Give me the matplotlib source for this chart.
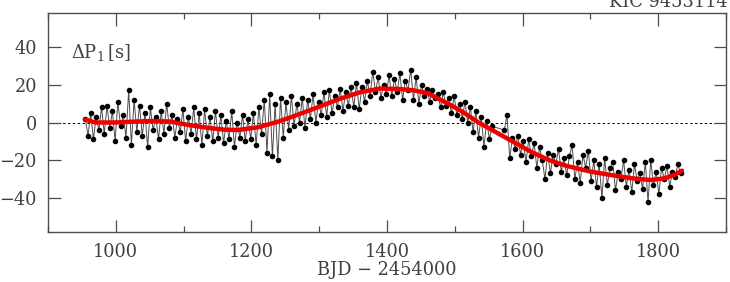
import matplotlib
matplotlib.use("Agg")
import matplotlib.pyplot as plt
from matplotlib.ticker import MultipleLocator

plt.rcParams['font.family'] = ['DejaVu Serif']
plt.rcParams['mathtext.fontset'] = 'dejavuserif'

# ---- data ----
time = [955, 959, 963, 967, 971, 975, 979, 983, 987, 991,
        995, 999, 1003, 1007, 1011, 1015, 1019, 1023, 1027, 1031,
        1035, 1039, 1043, 1047, 1051, 1055, 1059, 1063, 1067, 1071,
        1075, 1079, 1083, 1087, 1091, 1095, 1099, 1103, 1107, 1111,
        1115, 1119, 1123, 1127, 1131, 1135, 1139, 1143, 1147, 1151,
        1155, 1159, 1163, 1167, 1171, 1175, 1179, 1183, 1187, 1191,
        1195, 1199, 1203, 1207, 1211, 1215, 1219, 1223, 1227, 1231,
        1235, 1239, 1243, 1247, 1251, 1255, 1259, 1263, 1267, 1271,
        1275, 1279, 1283, 1287, 1291, 1295, 1299, 1303, 1307, 1311,
        1315, 1319, 1323, 1327, 1331, 1335, 1339, 1343, 1347, 1351,
        1355, 1359, 1363, 1367, 1371, 1375, 1379, 1383, 1387, 1391,
        1395, 1399, 1403, 1407, 1411, 1415, 1419, 1423, 1427, 1431,
        1435, 1439, 1443, 1447, 1451, 1455, 1459, 1463, 1467, 1471,
        1475, 1479, 1483, 1487, 1491, 1495, 1499, 1503, 1507, 1511,
        1515, 1519, 1523, 1527, 1531, 1535, 1539, 1543, 1547, 1551,
        1555,
        1573, 1577, 1581, 1585, 1589, 1593, 1597, 1601, 1605, 1609,
        1613, 1617, 1621, 1625, 1629, 1633, 1637, 1641, 1645, 1649,
        1653, 1657, 1661, 1665, 1669, 1673, 1677, 1681, 1685, 1689,
        1693, 1697, 1701, 1705, 1709, 1713, 1717, 1721, 1725, 1729,
        1733, 1737, 1741, 1745, 1749, 1753, 1757, 1761, 1765, 1769,
        1773, 1777, 1781, 1785, 1789, 1793, 1797, 1801, 1805, 1809,
        1813, 1817, 1821, 1825, 1829, 1833]

dP = [2, -7, 5, -9, 3, -4, 8, -6, 9, -3,
      6, -10, 11, -2, 4, -8, 17, -12, 12, -5,
      9, -7, 5, -13, 8, -4, 3, -9, 6, -6,
      10, -3, 4, -8, 2, -5, 7, -10, 3, -6,
      8, -9, 5, -12, 7, -7, 3, -10, 6, -8,
      4, -11, 1, -9, 6, -13, 0, -8, 4, -10,
      2, -9, 5, -12, 8, -6, 12, -16, 15, -18,
      10, -20, 13, -8, 11, -4, 14, -2, 10, 0,
      13, -3, 12, 2, 15, 0, 11, 4, 16, 3,
      17, 5, 14, 8, 18, 6, 16, 9, 19, 8,
      21, 7, 19, 11, 22, 14, 27, 16, 24, 13,
      20, 15, 25, 14, 23, 16, 26, 12, 22, 17,
      28, 12, 24, 10, 20, 14, 18, 11, 17, 13,
      15, 8, 16, 9, 13, 5, 14, 4, 10, 2,
      11, 0, 8, -5, 6, -8, 3, -13, 1, -9,
      -2,
      -4, 4, -19, -8, -14, -7, -17, -10, -21, -9,
      -18, -11, -24, -13, -20, -30, -16, -27, -17, -22,
      -14, -26, -19, -28, -18, -12, -30, -21, -32, -17,
      -24, -15, -31, -20, -34, -22, -40, -19, -33, -24,
      -21, -36, -26, -30, -20, -34, -25, -37, -22, -31,
      -27, -35, -21, -42, -20, -33, -26, -38, -24, -30,
      -23, -34, -26, -29, -22, -27]

fit_time = [955, 970, 1000, 1030, 1050, 1080, 1110, 1140, 1160, 1180, 1210,
            1240, 1260, 1290, 1330, 1360, 1390, 1420, 1440, 1460, 1490,
            1510, 1535, 1560, 1575, 1600, 1615, 1640, 1665, 1700, 1730,
            1760, 1790, 1810, 1825, 1835]
fit_val = [1.5, 0.0, 0.0, 0.5, 0.8, 0.5, -1.5, -3.0, -3.8, -4.0, -2.5,
           0.5, 3.0, 7.0, 12.5, 16.0, 18.0, 17.7, 17.0, 15.5, 10.0,
           6.0, 0.0, -5.0, -8.0, -13.0, -16.0, -20.0, -23.0, -26.0, -27.8,
           -29.5, -30.5, -29.5, -27.5, -25.5]

xticks = [1000, 1200, 1400, 1600, 1800]
yticks = [-40, -20, 0, 20, 40]

fig = plt.figure(figsize=(7.30, 2.82), dpi=100)
ax = fig.add_axes([48/730, 1-232/282, (726-48)/730, (232-13)/282])

ax.axhline(0, color='black', lw=0.7, ls=(0, (2.5, 2.5)), zorder=1)
ax.plot(time, dP, color='0.3', lw=0.7, zorder=2)
ax.plot(time, dP, 'o', color='black', ms=3.0, zorder=3)
ax.plot(fit_time, fit_val, color='#ee0000', lw=3.2, zorder=4,
        solid_capstyle='round')

ax.set_xlim(900, 1900)
ax.set_ylim(-58, 58)
ax.set_xticks(xticks)
ax.set_yticks(yticks)
ax.xaxis.set_minor_locator(MultipleLocator(100))
ax.set_yticklabels(['\u221240', '\u221220', '0', '20', '40'])

gray = '0.3'
for s in ax.spines.values():
    s.set_color(gray)
    s.set_linewidth(1.0)
ax.tick_params(which='both', direction='in', top=True, right=True,
               colors=gray, labelcolor='0.25', labelsize=12.8)
ax.tick_params(axis='x', pad=8)
ax.tick_params(axis='y', pad=8)
ax.tick_params(which='major', length=9, width=0.9)
ax.tick_params(which='minor', length=4.5, width=0.9)

ax.set_xlabel('BJD \u2212 2454000', fontsize=12.8, color='0.25', labelpad=0)
ax.text(0.034, 0.82, r'$\Delta\mathrm{P}_1\,[\mathrm{s}]$', transform=ax.transAxes,
        fontsize=13, color='0.25', ha='left', va='center')
fig.text(728/730, 1-7/282, 'KIC 9453114', fontsize=12.8, color='0.25',
         ha='right', va='baseline')

fig.savefig('out.png', dpi=100)
